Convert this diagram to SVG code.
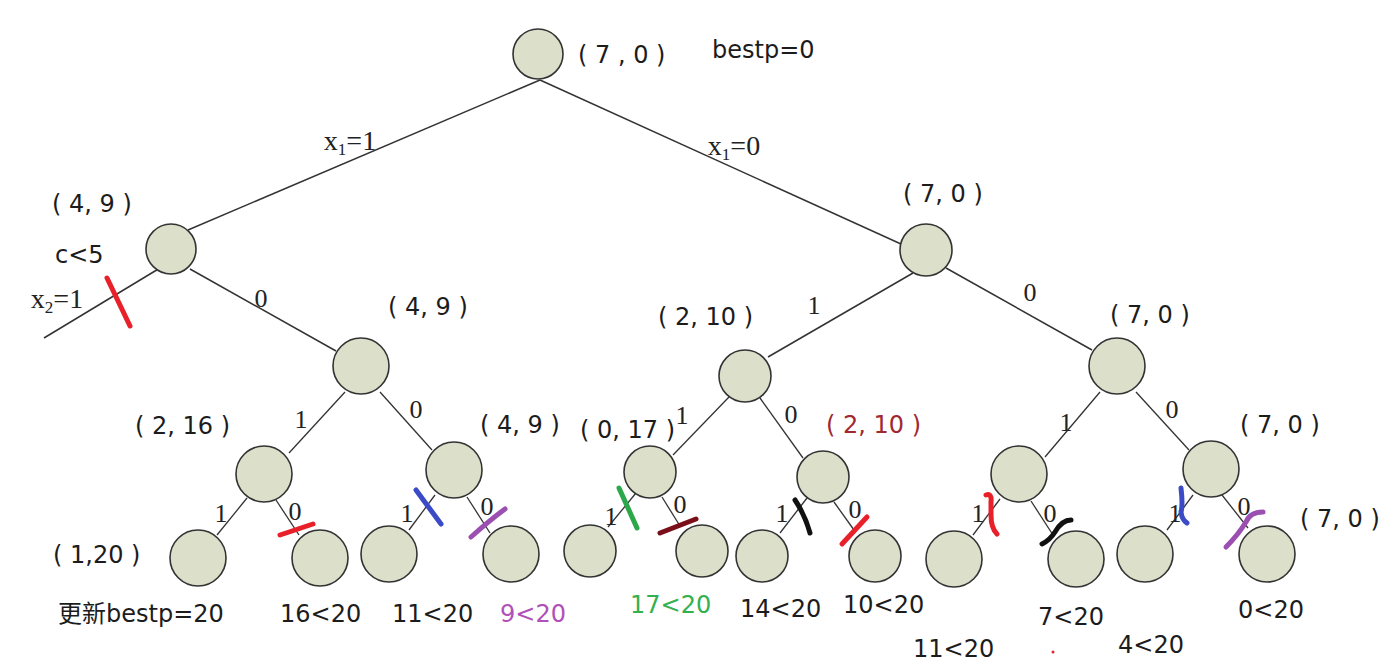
<svg xmlns="http://www.w3.org/2000/svg" width="1396" height="666" viewBox="0 0 1396 666">
<style>
.e{stroke:#333;stroke-width:1.5;fill:none}
.e2{stroke:#333;stroke-width:1.3;fill:none}
.n{fill:#dcdfca;stroke:#333;stroke-width:1.6}
.el{font-family:"Liberation Serif","Times New Roman",serif;font-size:26px;fill:#222;text-anchor:middle}
.xl{font-size:28px}
.t{font-family:"DejaVu Sans","Noto Sans CJK SC",sans-serif;font-size:24px;fill:#1c1c1c}
.purple{fill:#b050b8}
.green{fill:#35b050}
.dred{fill:#a02830}
.m{fill:none;stroke-width:5;stroke-linecap:round;stroke-linejoin:round}
</style>
<rect width="1396" height="666" fill="#fff"/>
<g id="connectors">
<line class="e" x1="540" y1="80" x2="188" y2="230"/>
<line class="e" x1="540" y1="80" x2="901" y2="244"/>
<line class="e" x1="160" y1="268" x2="44" y2="338"/>
<line class="e" x1="190" y1="269" x2="336" y2="351"/>
<line class="e" x1="913" y1="273" x2="768" y2="357"/>
<line class="e" x1="946" y1="268" x2="1092" y2="350"/>
<line class="e2" x1="345" y1="392" x2="289" y2="453"/>
<line class="e2" x1="380" y1="392" x2="432" y2="450"/>
<line class="e2" x1="729" y1="397" x2="673" y2="455"/>
<line class="e2" x1="760" y1="398" x2="803" y2="458"/>
<line class="e2" x1="1100" y1="392" x2="1045" y2="457"/>
<line class="e2" x1="1136" y1="392" x2="1189" y2="450"/>
<line class="e2" x1="247" y1="498" x2="217" y2="535"/>
<line class="e2" x1="276" y1="500" x2="299" y2="535"/>
<line class="e2" x1="435" y1="495" x2="409" y2="530"/>
<line class="e2" x1="467" y1="497" x2="490" y2="533"/>
<line class="e2" x1="636" y1="493" x2="608" y2="527"/>
<line class="e2" x1="662" y1="497" x2="680" y2="526"/>
<line class="e2" x1="807" y1="498" x2="780" y2="533"/>
<line class="e2" x1="834" y1="502" x2="854" y2="530"/>
<line class="e2" x1="1000" y1="499" x2="973" y2="535"/>
<line class="e2" x1="1031" y1="501" x2="1053" y2="535"/>
<line class="e2" x1="1193" y1="495" x2="1167" y2="530"/>
<line class="e2" x1="1222" y1="495" x2="1248" y2="528"/>
</g>
<g id="edge-labels">
<text class="el xl" x="350" y="150">x<tspan font-size="17" dy="5">1</tspan><tspan dy="-5">=1</tspan></text>
<text class="el xl" x="734" y="155">x<tspan font-size="17" dy="5">1</tspan><tspan dy="-5">=0</tspan></text>
<text class="el xl" x="57" y="308">x<tspan font-size="17" dy="5">2</tspan><tspan dy="-5">=1</tspan></text>
<text class="el" x="261" y="307">0</text>
<text class="el" x="814" y="314">1</text>
<text class="el" x="1030" y="301">0</text>
<text class="el" x="301" y="428">1</text>
<text class="el" x="416" y="418">0</text>
<text class="el" x="682" y="424">1</text>
<text class="el" x="791" y="423">0</text>
<text class="el" x="1066" y="431">1</text>
<text class="el" x="1172" y="418">0</text>
<text class="el" x="221" y="522">1</text>
<text class="el" x="295" y="520">0</text>
<text class="el" x="407" y="522">1</text>
<text class="el" x="487" y="515">0</text>
<text class="el" x="611" y="525">1</text>
<text class="el" x="680" y="513">0</text>
<text class="el" x="782" y="522">1</text>
<text class="el" x="855" y="518">0</text>
<text class="el" x="978" y="522">1</text>
<text class="el" x="1050" y="522">0</text>
<text class="el" x="1175" y="522">1</text>
<text class="el" x="1244" y="515">0</text>
</g>
<g id="n-root"><circle class="n" cx="538" cy="54" r="25"/><text class="t" x="578" y="63">( 7 , 0 )</text></g>
<g id="n-1L"><circle class="n" cx="171" cy="249" r="25"/><text class="t" x="52" y="212">( 4, 9 )</text></g>
<g id="n-1R"><circle class="n" cx="926" cy="250" r="26"/><text class="t" x="903" y="202">( 7, 0 )</text></g>
<g id="n-2a"><circle class="n" cx="361" cy="366" r="28"/><text class="t" x="388" y="315">( 4, 9 )</text></g>
<g id="n-2b"><circle class="n" cx="745" cy="376" r="26"/><text class="t" x="658" y="325">( 2, 10 )</text></g>
<g id="n-2c"><circle class="n" cx="1117" cy="366" r="28"/><text class="t" x="1110" y="323">( 7, 0 )</text></g>
<g id="n-3a"><circle class="n" cx="264" cy="474" r="28"/><text class="t" x="135" y="434">( 2, 16 )</text></g>
<g id="n-3b"><circle class="n" cx="454" cy="470" r="28"/><text class="t" x="480" y="433">( 4, 9 )</text></g>
<g id="n-3c"><circle class="n" cx="650" cy="472" r="26"/><text class="t" x="580" y="438">( 0, 17 )</text></g>
<g id="n-3d"><circle class="n" cx="823" cy="477" r="26"/><text class="t dred" x="826" y="433">( 2, 10 )</text></g>
<g id="n-3e"><circle class="n" cx="1019" cy="474" r="28"/></g>
<g id="n-3f"><circle class="n" cx="1211" cy="469" r="28"/><text class="t" x="1240" y="433">( 7, 0 )</text></g>
<g id="leaf-1"><circle class="n" cx="198" cy="558" r="28"/><text class="t" x="53" y="563">( 1,20 )</text><text class="t" x="58" y="622">更新bestp=20</text></g>
<g id="leaf-2"><circle class="n" cx="320" cy="558" r="28"/><text class="t" x="280" y="622">16&lt;20</text></g>
<g id="leaf-3"><circle class="n" cx="389" cy="554" r="28"/><text class="t" x="392" y="622">11&lt;20</text></g>
<g id="leaf-4"><circle class="n" cx="511" cy="554" r="28"/><text class="t purple" x="500" y="622">9&lt;20</text></g>
<g id="leaf-5"><circle class="n" cx="590" cy="551" r="26"/></g>
<g id="leaf-6"><circle class="n" cx="702" cy="551" r="26"/><text class="t green" x="630" y="613">17&lt;20</text></g>
<g id="leaf-7"><circle class="n" cx="762" cy="556" r="26"/><text class="t" x="740" y="617">14&lt;20</text></g>
<g id="leaf-8"><circle class="n" cx="875" cy="556" r="26"/><text class="t" x="843" y="613">10&lt;20</text></g>
<g id="leaf-9"><circle class="n" cx="954" cy="559" r="28"/><text class="t" x="913" y="657">11&lt;20</text></g>
<g id="leaf-10"><circle class="n" cx="1076" cy="559" r="28"/><text class="t" x="1038" y="625">7&lt;20</text></g>
<g id="leaf-11"><circle class="n" cx="1145" cy="554" r="28"/><text class="t" x="1118" y="653">4&lt;20</text></g>
<g id="leaf-12"><circle class="n" cx="1267" cy="554" r="28"/><text class="t" x="1238" y="618">0&lt;20</text><text class="t" x="1300" y="527">( 7, 0 )</text></g>
<g id="labels"><text class="t" x="712" y="58">bestp=0</text><text class="t" x="55" y="263">c&lt;5</text></g>
<g id="marks">
<path class="m" stroke="#e8202a" stroke-width="6" d="M107 278 L130 326"/>
<path class="m" stroke="#e8202a" d="M280 535 L313 524"/>
<path class="m" stroke="#3b4bc8" d="M416 490 L441 524"/>
<path class="m" stroke="#9b4fb0" d="M471 537 Q490 520 505 509"/>
<path class="m" stroke="#2aa84a" d="M619 488 L637 528"/>
<path class="m" stroke="#7a0f1a" d="M660 533 L696 519"/>
<path class="m" stroke="#111" d="M795 500 Q805 515 810 533"/>
<path class="m" stroke="#e8202a" d="M842 544 L867 517"/>
<path class="m" stroke="#e8202a" d="M986 495 Q992 493 991 502 L991 515 Q991 528 997 534"/>
<path class="m" stroke="#111" d="M1042 544 Q1050 540 1055 532 Q1062 520 1071 520"/>
<path class="m" stroke="#3b4bc8" d="M1181 488 Q1183 505 1181 512 Q1182 520 1187 523"/>
<path class="m" stroke="#9b4fb0" d="M1226 547 Q1238 535 1246 522 Q1250 512 1263 512"/>
<circle cx="1053" cy="652" r="1.5" fill="#e8202a"/>
</g>
</svg>
